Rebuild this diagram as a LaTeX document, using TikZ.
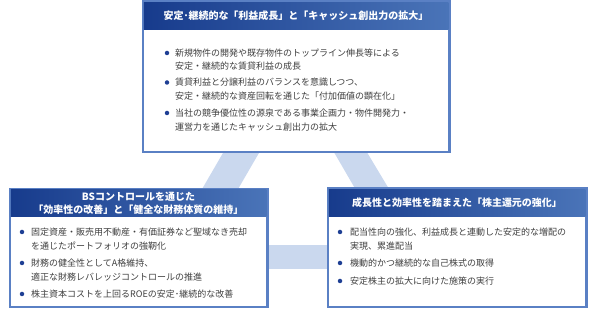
\documentclass[tikz,border=0pt]{standalone}
\usepackage{fontspec}
\setmainfont{Noto Sans CJK JP}
\definecolor{band}{HTML}{CAD8EE}
\definecolor{frame}{HTML}{5A80C4}
\definecolor{hdL}{HTML}{173B8C}
\definecolor{hdR}{HTML}{4A74B8}
\definecolor{bul}{HTML}{1E3F94}
\definecolor{txt}{HTML}{404040}
\tikzset{
  panel/.style={draw=frame, line width=1.5pt, fill=white, inner sep=0pt},
  header/.style={left color=hdL, right color=hdR, inner sep=0pt, text=white,
    font=\fontsize{10pt}{13.5pt}\selectfont\bfseries, align=center, anchor=north},
  bodyline/.style={anchor=base west, inner sep=0pt, text=txt, font=\fontsize{9pt}{11pt}\selectfont},
  dot/.style={circle, fill=bul, inner sep=0pt, minimum size=4.5pt},
  bandfill/.style={fill=band, draw=none},
}
\begin{document}
\begin{tikzpicture}[x=1pt, y=-1pt]
\useasboundingbox (0,0) rectangle (598,312);
% background triangle bands
\fill[bandfill] (230.5,140) -- (266.5,140) -- (231.7,200) -- (195.7,200) -- cycle;
\fill[bandfill] (326.9,140) -- (359.6,140) -- (395.6,200) -- (361.7,200) -- cycle;
\fill[bandfill] (250,245) rectangle (345,269);
% top panel
\node[panel, minimum width=306pt, minimum height=150pt] (topbox) at (296,77) {};
\node[header, minimum width=304.5pt, minimum height=27pt] (tophead) at ([yshift=-0.75pt]topbox.north)
  {安定･継続的な「利益成長」と「キャッシュ創出力の拡大」};
\draw[frame, line width=1.5pt] (topbox.north west) rectangle (topbox.south east);
\node[dot] (t1d) at (167,53) {};
\node[bodyline] (t1a) at (175,56.5) {新規物件の開発や既存物件のトップライン伸長等による};
\node[bodyline] (t1b) at (175,70) {安定・継続的な賃貸利益の成長};
\node[dot] (t2d) at (167,82.5) {};
\node[bodyline] (t2a) at (175,86) {賃貸利益と分譲利益のバランスを意識しつつ、};
\node[bodyline] (t2b) at (175,99.5) {安定・継続的な資産回転を通じた「付加価値の顕在化」};
\node[dot] (t3d) at (167,113) {};
\node[bodyline] (t3a) at (175,116.5) {当社の競争優位性の源泉である事業企画力・物件開発力・};
\node[bodyline] (t3b) at (175,130.5) {運営力を通じたキャッシュ創出力の拡大};
% left panel
\node[panel, minimum width=257pt, minimum height=117.5pt] (leftbox) at (138.5,248.25) {};
\node[header, minimum width=255.5pt, minimum height=27pt] (lefthead) at ([yshift=-0.75pt]leftbox.north)
  {BSコントロールを通じた\\「効率性の改善」と「健全な財務体質の維持」};
\draw[frame, line width=1.5pt] (leftbox.north west) rectangle (leftbox.south east);
\node[dot] (l1d) at (22,232) {};
\node[bodyline] (l1a) at (31,235.5) {固定資産・販売用不動産・有価証券など聖域なき売却};
\node[bodyline] (l1b) at (31,250) {を通じたポートフォリオの強靭化};
\node[dot] (l2d) at (22,263) {};
\node[bodyline] (l2a) at (31,266.5) {財務の健全性としてA格維持、};
\node[bodyline] (l2b) at (31,280.5) {適正な財務レバレッジコントロールの推進};
\node[dot] (l3d) at (22,294) {};
\node[bodyline] (l3a) at (31,297.5) {株主資本コストを上回るROEの安定･継続的な改善};
% right panel
\node[panel, minimum width=258pt, minimum height=118pt] (rightbox) at (457,248) {};
\node[header, minimum width=256.5pt, minimum height=27.5pt] (righthead) at ([yshift=-0.75pt]rightbox.north)
  {成長性と効率性を踏まえた「株主還元の強化」};
\draw[frame, line width=1.5pt] (rightbox.north west) rectangle (rightbox.south east);
\node[dot] (r1d) at (340,232) {};
\node[bodyline] (r1a) at (350,235.5) {配当性向の強化、利益成長と連動した安定的な増配の};
\node[bodyline] (r1b) at (350,250) {実現、累進配当};
\node[dot] (r2d) at (340,263) {};
\node[bodyline] (r2a) at (350,266.5) {機動的かつ継続的な自己株式の取得};
\node[dot] (r3d) at (340,281) {};
\node[bodyline] (r3a) at (350,284.5) {安定株主の拡大に向けた施策の実行};
\end{tikzpicture}
\end{document}
